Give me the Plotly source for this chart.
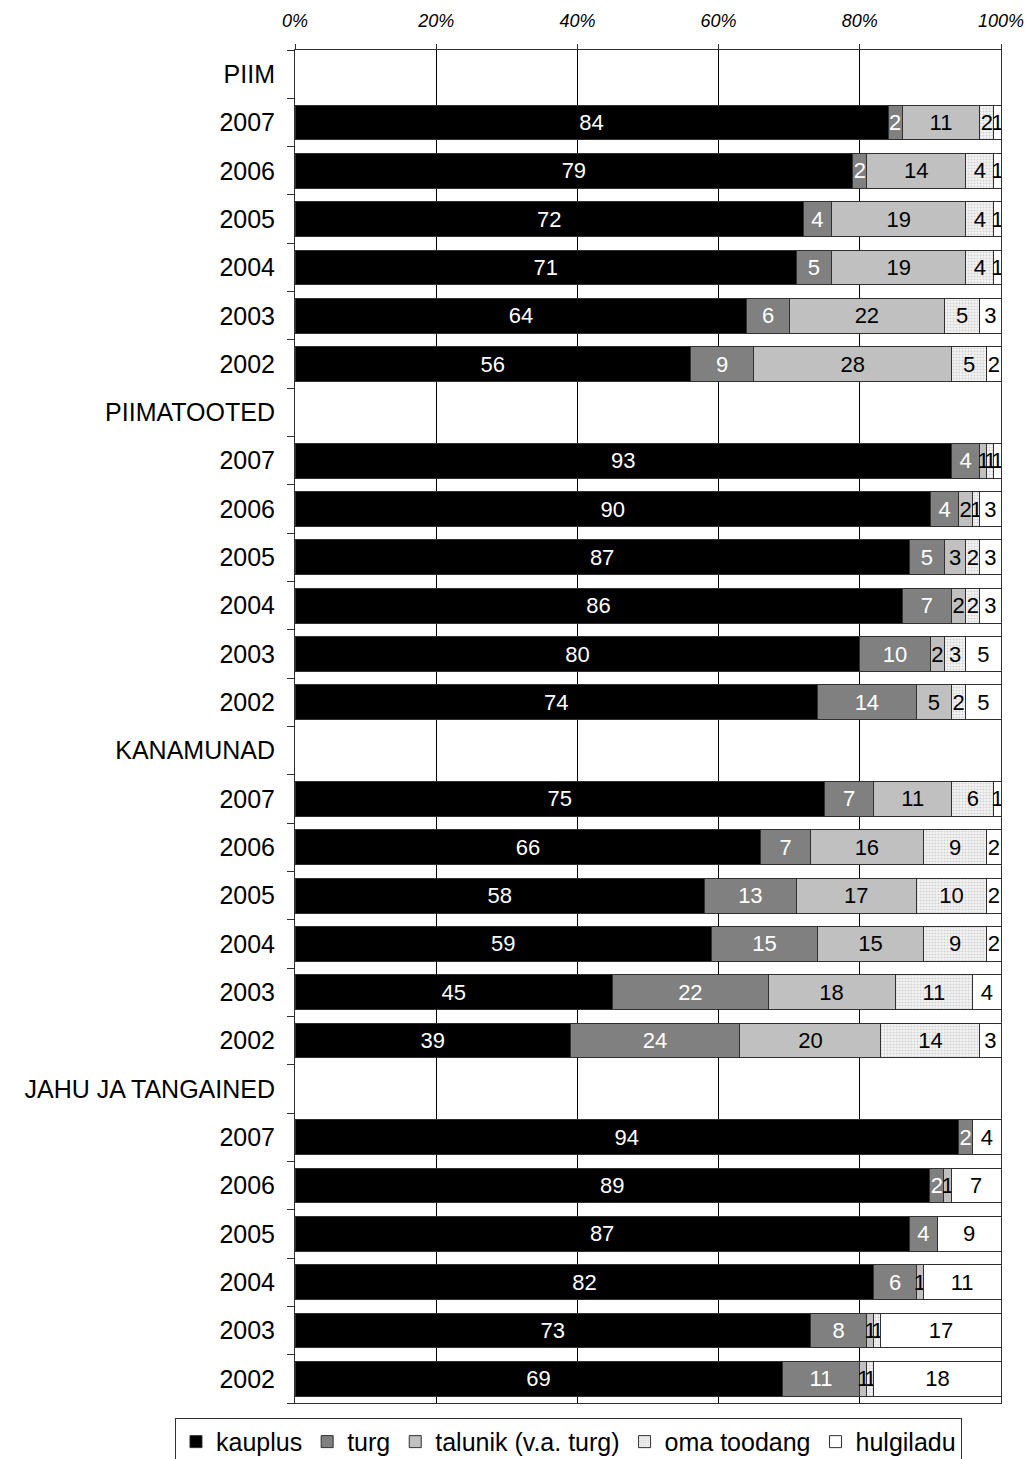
import plotly.graph_objects as go

groups = ["PIIM", "PIIMATOOTED", "KANAMUNAD", "JAHU JA TANGAINED"]
years = ["2007", "2006", "2005", "2004", "2003", "2002"]
series_names = ["kauplus", "turg", "talunik (v.a. turg)", "oma toodang", "hulgiladu"]
x_ticks = [0, 20, 40, 60, 80, 100]
x_tick_labels = ["0%", "20%", "40%", "60%", "80%", "100%"]

# values per group, per year (2007..2002)
kauplus = [
    [84, 79, 72, 71, 64, 56],
    [93, 90, 87, 86, 80, 74],
    [75, 66, 58, 59, 45, 39],
    [94, 89, 87, 82, 73, 69],
]
turg = [
    [2, 2, 4, 5, 6, 9],
    [4, 4, 5, 7, 10, 14],
    [7, 7, 13, 15, 22, 24],
    [2, 2, 4, 6, 8, 11],
]
talunik = [
    [11, 14, 19, 19, 22, 28],
    [1, 2, 3, 2, 2, 5],
    [11, 16, 17, 15, 18, 20],
    [0, 1, 0, 1, 1, 1],
]
oma_toodang = [
    [2, 4, 4, 4, 5, 5],
    [1, 1, 2, 2, 3, 2],
    [6, 9, 10, 9, 11, 14],
    [0, 0, 0, 0, 1, 1],
]
hulgiladu = [
    [1, 1, 1, 1, 3, 2],
    [1, 3, 3, 3, 5, 5],
    [1, 2, 2, 2, 4, 3],
    [4, 7, 9, 11, 17, 18],
]

# category ids and their displayed labels
cat_ids, cat_labels = [], []
for g in groups:
    cat_ids.append(g)
    cat_labels.append(g)
    for y in years:
        cat_ids.append(g + " " + y)
        cat_labels.append(y)

series_data = [kauplus, turg, talunik, oma_toodang, hulgiladu]
colors = ["#000000", "#808080", "#c0c0c0", "#f0f0f0", "#ffffff"]
text_colors = ["#ffffff", "#ffffff", "#000000", "#000000", "#000000"]

FONT = "Liberation Sans, Arial, sans-serif"

fig = go.Figure()
for name, data, col, tcol in zip(series_names, series_data, colors, text_colors):
    ys, xs, txt = [], [], []
    for gi, g in enumerate(groups):
        for yi, y in enumerate(years):
            v = data[gi][yi]
            ys.append(g + " " + y)
            xs.append(v if v > 0 else None)
            txt.append(str(v) if v > 0 else "")
    marker = dict(color=col, line=dict(color="#303030", width=1))
    if name == "oma toodang":
        marker["pattern"] = dict(shape=".", fgcolor="#b0b0b0", bgcolor="#f4f4f4",
                                 size=3, solidity=0.35)
    fig.add_trace(go.Bar(
        name=name, y=ys, x=xs, orientation="h", marker=marker,
        text=txt, textposition="inside", insidetextanchor="middle",
        textangle=0, textfont=dict(color=tcol, size=22, family=FONT),
        hoverinfo="skip",
    ))

n = len(cat_ids)
fig.update_layout(
    barmode="stack", barnorm="percent", bargap=0.28,
    width=1024, height=1451,
    margin=dict(l=287, r=31, t=42, b=56, autoexpand=False),
    plot_bgcolor="white", paper_bgcolor="white",
    font=dict(family=FONT, color="black"),
    uniformtext=dict(minsize=22, mode="show"),
    legend=dict(
        orientation="h", x=-0.17, xanchor="left", y=-0.011, yanchor="top",
        bordercolor="#303030", borderwidth=1, font=dict(size=25),
        traceorder="normal", itemwidth=30,
    ),
    xaxis=dict(
        side="top", range=[0, 100], tickmode="array", tickvals=x_ticks,
        ticktext=x_tick_labels, automargin=False,
        tickfont=dict(size=18, family=FONT, style="italic"),
        showgrid=True, gridcolor="#000000", gridwidth=1,
        showline=True, linecolor="#303030", linewidth=1, mirror=True,
        ticks="outside", ticklen=5, tickcolor="#303030", zeroline=False,
        ticklabelstandoff=10,
    ),
    yaxis=dict(
        type="category", categoryorder="array", categoryarray=cat_ids,
        tickmode="array", tickvals=cat_ids, ticktext=cat_labels,
        range=[n - 0.5, -0.5], autorange=False, tickson="boundaries",
        automargin=False,
        ticks="outside", ticklen=7, tickcolor="#303030",
        showline=True, linecolor="#303030", linewidth=1, mirror=True,
        showgrid=False, tickfont=dict(size=25), ticklabelstandoff=14,
    ),
)

fig.write_html("out.html")
